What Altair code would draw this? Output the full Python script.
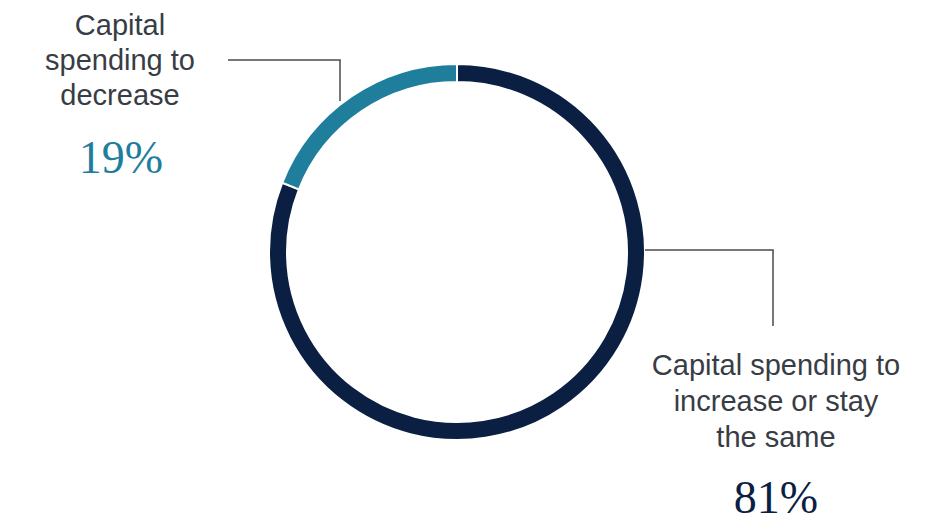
import altair as alt
import pandas as pd

categories = ["Capital spending to increase or stay the same", "Capital spending to decrease"]
values = [81, 19]
pct_labels = ["81%", "19%"]
left_lines = ["Capital", "spending to", "decrease"]
right_lines = ["Capital spending to", "increase or stay", "the same"]

NAVY = "#0b1f42"
TEAL = "#1f7e9b"
TEXT = "#383d45"
LINE = "#4a4a4a"

df = pd.DataFrame({"category": categories, "value": values, "order": [0, 1], "pct": pct_labels})
one = pd.DataFrame({"k": [0]})

CX, CY = 449, 244

arc = alt.Chart(df).mark_arc(innerRadius=170, outerRadius=188, stroke="white", strokeWidth=2).encode(
    theta=alt.Theta("value:Q", stack=True),
    order=alt.Order("order:Q"),
    color=alt.Color("category:N", scale=alt.Scale(domain=categories, range=[NAVY, TEAL]), legend=None),
    x=alt.value(CX),
    y=alt.value(CY),
)

def rule(x, y, x2, y2):
    return alt.Chart(one).mark_rule(color=LINE, strokeWidth=1.5).encode(
        x=alt.value(x), y=alt.value(y), x2=alt.value(x2), y2=alt.value(y2)
    )

rules = [
    rule(332, 52, 332, 93),
    rule(220, 52, 332.75, 52),
    rule(637, 242, 765.75, 242),
    rule(765, 242, 765, 318),
]

left_txt = alt.Chart(one).mark_text(
    text=left_lines, font="Liberation Sans", fontSize=29, lineHeight=35,
    color=TEXT, align="center", baseline="alphabetic"
).encode(x=alt.value(112), y=alt.value(27))

right_txt = alt.Chart(one).mark_text(
    text=right_lines, font="Liberation Sans", fontSize=29, lineHeight=36,
    color=TEXT, align="center", baseline="alphabetic"
).encode(x=alt.value(768), y=alt.value(367))

pct_left = alt.Chart(df).transform_filter(alt.datum.order == 1).mark_text(
    font="Liberation Serif", fontSize=46, color=TEAL, align="center", baseline="alphabetic"
).encode(text="pct:N", x=alt.value(113), y=alt.value(165))

pct_right = alt.Chart(df).transform_filter(alt.datum.order == 0).mark_text(
    font="Liberation Serif", fontSize=46, color=NAVY, align="center", baseline="alphabetic"
).encode(text="pct:N", x=alt.value(768), y=alt.value(505))

chart = alt.layer(arc, *rules, left_txt, right_txt, pct_left, pct_right).properties(
    width=920, height=505, padding=0, autosize=alt.AutoSizeParams(type="none")
).configure_view(stroke=None)

chart.save("out.html", embed_options={"renderer": "svg", "actions": False})
